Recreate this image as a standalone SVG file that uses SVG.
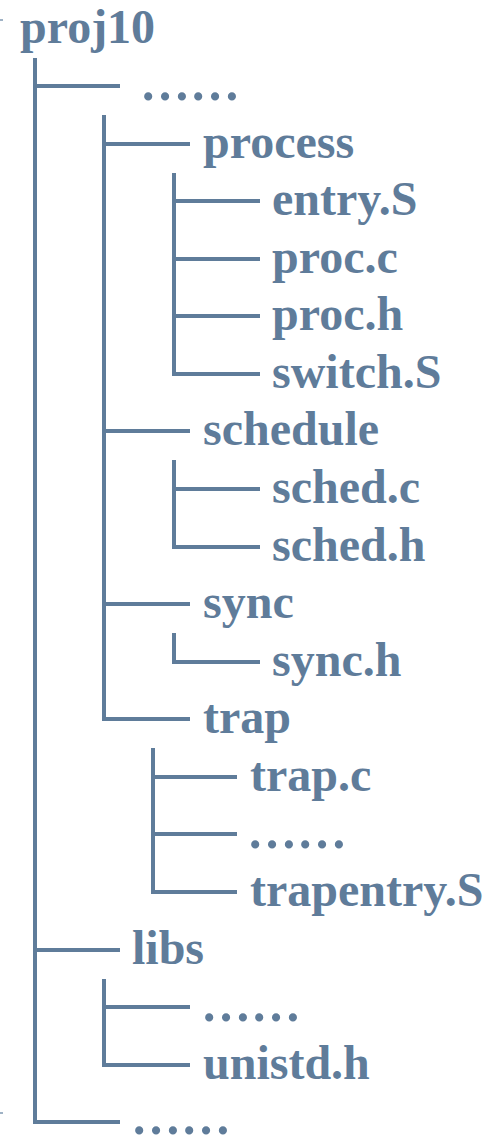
<svg xmlns="http://www.w3.org/2000/svg" width="483" height="1140" viewBox="0 0 483 1140">
  <style>
    .lbl { font-family: "Liberation Serif", "Times New Roman", serif; font-weight: bold; font-size: 48px; fill: #5f7c9a; }
    .dots { font-family: "Liberation Serif", "Times New Roman", serif; font-weight: bold; font-size: 50px; fill: #5f7c9a; }
    .edge { fill: none; stroke: #5f7c9a; stroke-width: 4; stroke-linejoin: miter; stroke-linecap: butt; }
    .tick { fill: #9fb2c5; }
  </style>
  <rect width="483" height="1140" fill="#ffffff"/>

  <!-- margin ticks -->
  <rect class="tick" x="0" y="19" width="3" height="2"/>
  <rect class="tick" x="0" y="1112" width="3" height="2"/>

  <!-- tree connectors -->
  <g id="connectors">
    <!-- root level -->
    <path class="edge" d="M35,58 V1122 H120"/>
    <path class="edge" d="M35,86 H120"/>
    <path class="edge" d="M35,950 H120"/>
    <!-- process / schedule / sync / trap -->
    <path class="edge" d="M104,115 V719 H190"/>
    <path class="edge" d="M104,144 H190"/>
    <path class="edge" d="M104,431 H190"/>
    <path class="edge" d="M104,604 H190"/>
    <!-- process children -->
    <path class="edge" d="M174,173 V374 H260"/>
    <path class="edge" d="M174,201 H260"/>
    <path class="edge" d="M174,259 H260"/>
    <path class="edge" d="M174,316 H260"/>
    <!-- schedule children -->
    <path class="edge" d="M174,460 V547 H260"/>
    <path class="edge" d="M174,489 H260"/>
    <!-- sync children -->
    <path class="edge" d="M174,633 V662 H260"/>
    <!-- trap children -->
    <path class="edge" d="M153,748 V892 H237"/>
    <path class="edge" d="M153,777 H237"/>
    <path class="edge" d="M153,834 H237"/>
    <!-- libs children -->
    <path class="edge" d="M104,979 V1065 H190"/>
    <path class="edge" d="M104,1007 H190"/>
  </g>

  <g id="proj10"><text class="lbl" x="20" y="43">proj10</text></g>
  <g id="misc-top"><text class="dots" x="140" y="100">……</text></g>
  <g id="process"><text class="lbl" x="203" y="158">process</text></g>
  <g id="entry-S"><text class="lbl" x="272" y="215">entry.S</text></g>
  <g id="proc-c"><text class="lbl" x="272" y="273">proc.c</text></g>
  <g id="proc-h"><text class="lbl" x="272" y="330">proc.h</text></g>
  <g id="switch-S"><text class="lbl" x="272" y="388">switch.S</text></g>
  <g id="schedule"><text class="lbl" x="203" y="445">schedule</text></g>
  <g id="sched-c"><text class="lbl" x="272" y="503">sched.c</text></g>
  <g id="sched-h"><text class="lbl" x="272" y="561">sched.h</text></g>
  <g id="sync"><text class="lbl" x="203" y="618">sync</text></g>
  <g id="sync-h"><text class="lbl" x="272" y="676">sync.h</text></g>
  <g id="trap"><text class="lbl" x="203" y="733">trap</text></g>
  <g id="trap-c"><text class="lbl" x="250" y="791">trap.c</text></g>
  <g id="misc-trap"><text class="dots" x="247" y="848">……</text></g>
  <g id="trapentry-S"><text class="lbl" x="250" y="906">trapentry.S</text></g>
  <g id="libs"><text class="lbl" x="132" y="964">libs</text></g>
  <g id="misc-libs"><text class="dots" x="201" y="1021">……</text></g>
  <g id="unistd-h"><text class="lbl" x="203" y="1079">unistd.h</text></g>
  <g id="misc-bottom"><text class="dots" x="131" y="1134">……</text></g>
</svg>
